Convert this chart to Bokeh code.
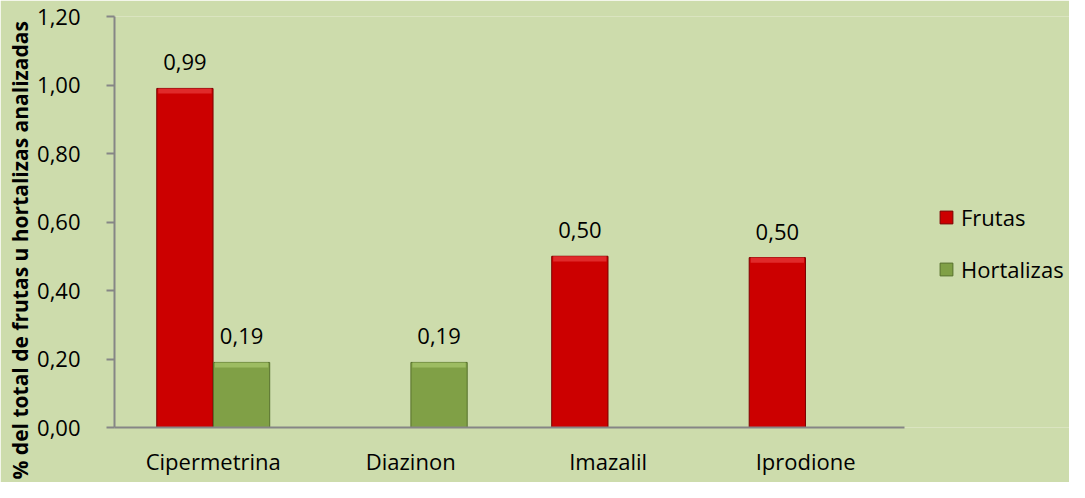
from bokeh.plotting import figure
from bokeh.models import (ColumnDataSource, Range1d, FixedTicker,
                          CustomJSTickFormatter, LabelSet, Legend, LegendItem, Title)
from bokeh.core.properties import value
from bokeh.transform import dodge
from bokeh.embed import file_html
from bokeh.resources import INLINE

# ---- data ----
categories = ["Cipermetrina", "Diazinon", "Imazalil", "Iprodione"]
frutas = [0.99, 0.0, 0.50, 0.496]
hortalizas = [0.19, 0.19, 0.0, 0.0]
y_ticks = [0.0, 0.2, 0.4, 0.6, 0.8, 1.0, 1.2]
series_names = ["Frutas", "Hortalizas"]
y_title = "% del total de frutas u hortalizas analizadas"

FONT = "Open Sans"
BG = "#CDDCAC"
AXIS = "#868686"
RED, RED_EDGE, RED_HI = "#CC0000", "#7A0000", "#E02A2A"
GREEN, GREEN_EDGE, GREEN_HI = "#80A046", "#56702C", "#9DBC62"

def fmt(v):
    return f"{v:.2f}".replace(".", ",")

# category slot centres on a numeric axis (slot i spans [i, i+1])
centers = [i + 0.5 for i in range(len(categories))]

def make_source(vals):
    xs = [c for c, v in zip(centers, vals) if v > 0]
    vs = [v for v in vals if v > 0]
    return ColumnDataSource(dict(x=xs, val=vs, hi=[v - 0.015 for v in vs],
                                 label=[fmt(v) for v in vs]))

src_f = make_source(frutas)
src_h = make_source(hortalizas)

n = len(categories)
p = figure(x_range=Range1d(0, n * 1.209), y_range=Range1d(0, 1.2),
           width=1069, height=482, output_backend="svg", toolbar_location=None,
           min_border_left=114, min_border_right=0, min_border_top=16,
           min_border_bottom=55)
p.background_fill_color = BG
p.border_fill_color = BG
p.outline_line_color = None
p.xgrid.grid_line_color = None
p.ygrid.grid_line_color = None

W = 0.285
OFF = 0.1435
rf = p.vbar(x=dodge("x", -OFF), top="val", bottom=0, width=W,
            source=src_f, fill_color=RED, line_color=RED_EDGE, line_width=1)
p.vbar(x=dodge("x", -OFF), top="val", bottom="hi", width=W - 0.015,
       source=src_f, fill_color=RED_HI, line_color=None)
rh = p.vbar(x=dodge("x", OFF), top="val", bottom=0, width=W,
            source=src_h, fill_color=GREEN, line_color=GREEN_EDGE, line_width=1)
p.vbar(x=dodge("x", OFF), top="val", bottom="hi", width=W - 0.015,
       source=src_h, fill_color=GREEN_HI, line_color=None)

for src, off in ((src_f, -OFF), (src_h, OFF)):
    p.add_layout(LabelSet(x=dodge("x", off), y="val", text="label",
                          source=src, text_align="center", text_baseline="alphabetic",
                          y_offset=18, text_font=value(FONT), text_font_size=value("22px"),
                          text_color="#000000"))

# axes
p.xaxis.ticker = FixedTicker(ticks=centers)
p.xaxis.major_label_overrides = {c: name for c, name in zip(centers, categories)}
p.xaxis.bounds = (0, n)
p.yaxis.ticker = FixedTicker(ticks=y_ticks)
p.yaxis.formatter = CustomJSTickFormatter(code="return tick.toFixed(2).replace('.', ',');")
for ax in (p.xaxis[0], p.yaxis[0]):
    ax.axis_line_color = AXIS
    ax.axis_line_width = 2
    ax.major_label_text_font = FONT
    ax.major_label_text_font_size = "22px"
    ax.major_label_text_color = "#000000"
    ax.minor_tick_line_color = None
p.yaxis.major_tick_line_color = AXIS
p.yaxis.major_tick_line_width = 2
p.yaxis.major_tick_out = 8
p.yaxis.major_tick_in = 0
p.yaxis.major_label_standoff = 26
p.xaxis.major_tick_line_color = None
p.xaxis.major_label_standoff = 12

p.add_layout(Title(text=y_title, align="left", offset=-52, standoff=2,
                   text_font=FONT, text_font_size="21px", text_font_style="bold",
                   text_color="#000000"), "left")

legend = Legend(items=[LegendItem(label=series_names[0], renderers=[rf]),
                       LegendItem(label=series_names[1], renderers=[rh])],
                location=(824, 143), orientation="vertical")
legend.background_fill_alpha = 0
legend.border_line_color = None
legend.padding = 0
legend.margin = 0
legend.spacing = 22
legend.label_height = 30
legend.glyph_width = 16
legend.glyph_height = 16
legend.label_standoff = 7
legend.label_text_font = FONT
legend.label_text_font_size = "22px"
legend.label_text_color = "#000000"
p.add_layout(legend, "center")

open("out.html", "w").write(file_html(p, INLINE))
